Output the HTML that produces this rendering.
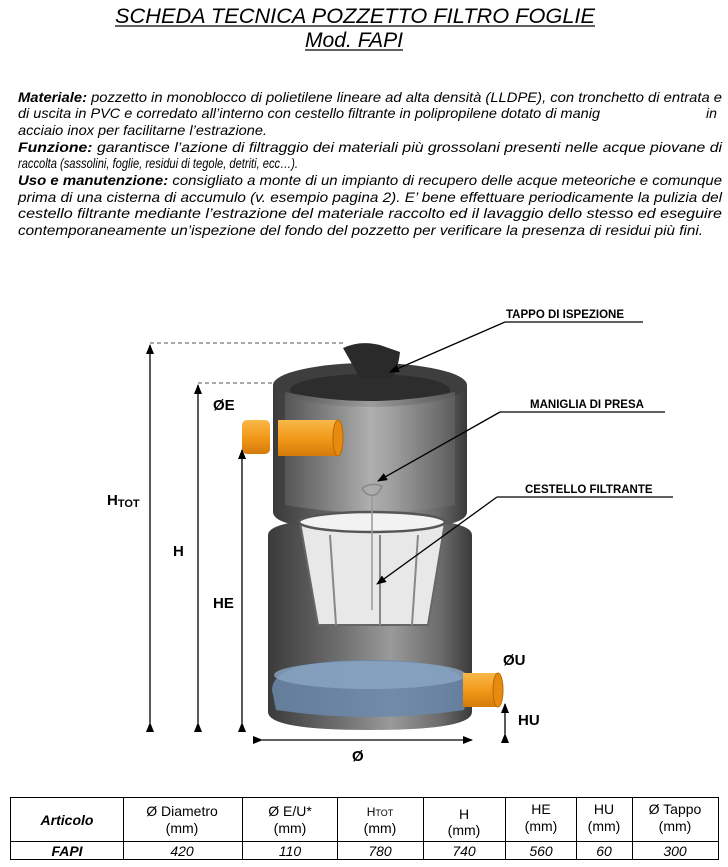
<!DOCTYPE html>
<html><head><meta charset="utf-8"><style>
html,body{margin:0;padding:0;background:#fff;}
svg{display:block;font-family:"Liberation Sans",Arial,sans-serif;}
</style></head><body>
<svg width="728" height="867" viewBox="0 0 728 867" xmlns="http://www.w3.org/2000/svg">
<defs>
<linearGradient id="body" x1="0" x2="1" y1="0" y2="0">
<stop offset="0" stop-color="#3a3a3a"/><stop offset="0.35" stop-color="#6e6e6e"/><stop offset="0.6" stop-color="#9a9a9a"/><stop offset="0.85" stop-color="#6a6a6a"/><stop offset="1" stop-color="#3a3a3a"/></linearGradient>
<linearGradient id="inner" x1="0" x2="1" y1="0" y2="0">
<stop offset="0" stop-color="#5a5a5a"/><stop offset="0.5" stop-color="#b8b8b8"/><stop offset="1" stop-color="#5f5f5f"/></linearGradient>
<linearGradient id="pipe" x1="0" x2="0" y1="0" y2="1">
<stop offset="0" stop-color="#f7b84a"/><stop offset="0.5" stop-color="#f39a1a"/><stop offset="1" stop-color="#d37a0a"/></linearGradient>
<marker id="ar" markerWidth="10" markerHeight="8" refX="9" refY="4" orient="auto" markerUnits="userSpaceOnUse"><path d="M0,0 L10,4 L0,8 z" fill="#000"/></marker>
</defs>

<g font-style="italic" font-size="21" text-anchor="middle" fill="#000">
<text x="355" y="23" textLength="480" lengthAdjust="spacingAndGlyphs">SCHEDA TECNICA POZZETTO FILTRO FOGLIE</text>
<line x1="115" y1="26" x2="595" y2="26" stroke="#000" stroke-width="1.2"/>
<text x="354" y="47" textLength="98" lengthAdjust="spacingAndGlyphs">Mod. FAPI</text>
<line x1="305" y1="50" x2="403" y2="50" stroke="#000" stroke-width="1.2"/>
</g>

<g font-style="italic" font-size="14" fill="#000">
<text x="18" y="102" textLength="704" lengthAdjust="spacingAndGlyphs"><tspan font-weight="bold">Materiale:</tspan> pozzetto in monoblocco di polietilene lineare ad alta densità (LLDPE), con tronchetto di entrata e</text>
<text x="18" y="118" textLength="582" lengthAdjust="spacingAndGlyphs">di uscita in PVC e corredato all’interno con cestello filtrante in polipropilene dotato di manig</text>
<text x="706" y="118">in</text>
<text x="18" y="135" textLength="249" lengthAdjust="spacingAndGlyphs">acciaio inox per facilitarne l’estrazione.</text>
<text x="18" y="152" textLength="704" lengthAdjust="spacingAndGlyphs"><tspan font-weight="bold">Funzione:</tspan> garantisce l’azione di filtraggio dei materiali più grossolani presenti nelle acque piovane di</text>
<text x="18" y="168" textLength="280" lengthAdjust="spacingAndGlyphs">raccolta (sassolini, foglie, residui di tegole, detriti, ecc…).</text>
<text x="18" y="185" textLength="704" lengthAdjust="spacingAndGlyphs"><tspan font-weight="bold">Uso e manutenzione:</tspan> consigliato a monte di un impianto di recupero delle acque meteoriche e comunque</text>
<text x="18" y="202" textLength="704" lengthAdjust="spacingAndGlyphs">prima di una cisterna di accumulo (v. esempio pagina 2). E’ bene effettuare periodicamente la pulizia del</text>
<text x="18" y="218" textLength="704" lengthAdjust="spacingAndGlyphs">cestello filtrante mediante l’estrazione del materiale raccolto ed il lavaggio dello stesso ed eseguire</text>
<text x="18" y="235" textLength="685" lengthAdjust="spacingAndGlyphs">contemporaneamente un’ispezione del fondo del pozzetto per verificare la presenza di residui più fini.</text>
</g>

<!-- dashed lines -->
<line x1="150" y1="343" x2="345" y2="343" stroke="#555" stroke-dasharray="4,3"/>
<line x1="198" y1="383" x2="276" y2="383" stroke="#555" stroke-dasharray="4,3"/>

<!-- lower tank -->
<path d="M268,535 L268,712 Q268,730 370,730 Q472,730 472,712 L472,535 Q472,518 370,518 Q268,518 268,535 Z" fill="url(#body)"/>
<path d="M272,690 Q272,660 370,660 Q468,660 468,690 L464,710 Q370,724 276,710 Z" fill="#6b88aa" opacity="0.85"/>
<ellipse cx="370" cy="675" rx="96" ry="14" fill="#8aa6c4" opacity="0.8"/>
<!-- upper tank -->
<path d="M273,385 L273,512 Q273,530 370,530 Q467,530 467,512 L467,385 Z" fill="url(#body)"/>
<ellipse cx="370" cy="385" rx="97" ry="22" fill="#3e3e3e"/>
<ellipse cx="370" cy="390" rx="80" ry="16" fill="#2d2d2d"/>
<path d="M285,392 L285,505 Q370,520 455,505 L455,392 Q370,410 285,392 Z" fill="url(#inner)" opacity="0.8"/>
<path d="M343,348 Q360,340 380,345 L400,352 Q398,370 392,378 L360,378 Z" fill="#2a2a2a"/>
<!-- pipes -->
<rect x="242" y="420" width="28" height="34" rx="5" fill="url(#pipe)"/>
<rect x="278" y="420" width="62" height="36" fill="url(#pipe)"/>
<ellipse cx="338" cy="438" rx="5" ry="18" fill="#e88a10" stroke="#b76a00"/>
<rect x="463" y="673" width="36" height="34" fill="url(#pipe)"/>
<ellipse cx="498" cy="690" rx="5" ry="17" fill="#e88a10" stroke="#b76a00"/>
<!-- basket -->
<path d="M300,522 L445,522 L428,625 L318,625 Z" fill="#e8e8e8" stroke="#666" stroke-width="2"/>
<ellipse cx="372" cy="522" rx="73" ry="10" fill="#f2f2f2" stroke="#555" stroke-width="2.5"/>
<line x1="330" y1="535" x2="336" y2="625" stroke="#888" stroke-width="2"/>
<line x1="380" y1="535" x2="380" y2="625" stroke="#888" stroke-width="2"/>
<line x1="418" y1="535" x2="412" y2="625" stroke="#888" stroke-width="2"/>
<line x1="372" y1="495" x2="372" y2="610" stroke="#999" stroke-width="1.5"/>
<path d="M362,488 Q372,482 382,486 Q378,496 372,495 Q366,496 362,488 Z" fill="none" stroke="#888" stroke-width="1.5"/>

<!-- dimension arrows -->
<g stroke="#000" stroke-width="1.3" fill="none">
<line x1="150" y1="723" x2="150" y2="345" marker-end="url(#ar)" marker-start="url(#ar)"/>
<line x1="198" y1="723" x2="198" y2="385" marker-end="url(#ar)" marker-start="url(#ar)"/>
<line x1="242" y1="723" x2="242" y2="450" marker-end="url(#ar)" marker-start="url(#ar)"/>
<line x1="505" y1="734" x2="505" y2="704" marker-end="url(#ar)" marker-start="url(#ar)"/>
<line x1="262" y1="740" x2="472" y2="740" marker-end="url(#ar)" marker-start="url(#ar)"/>
<line x1="505" y1="322" x2="390" y2="372" marker-end="url(#ar)"/>
<line x1="500" y1="412" x2="378" y2="481" marker-end="url(#ar)"/>
<line x1="497" y1="497" x2="377" y2="584" marker-end="url(#ar)"/>
<line x1="505" y1="322" x2="643" y2="322"/>
<line x1="500" y1="412" x2="665" y2="412"/>
<line x1="497" y1="497" x2="673" y2="497"/>
</g>
<g font-weight="bold" font-size="15" fill="#000">
<text x="107" y="505">H<tspan font-size="11" dy="2">TOT</tspan></text>
<text x="173" y="556">H</text>
<text x="213" y="410">ØE</text>
<text x="213" y="608">HE</text>
<text x="503" y="665">ØU</text>
<text x="518" y="725">HU</text>
<text x="352" y="761">Ø</text>
</g>
<g font-weight="bold" font-size="11.5" fill="#000">
<text x="506" y="318">TAPPO DI ISPEZIONE</text>
<text x="530" y="408">MANIGLIA DI PRESA</text>
<text x="525" y="493">CESTELLO FILTRANTE</text>
</g>

<!-- table -->
<g stroke="#000" stroke-width="1" fill="none">
<rect x="10.5" y="797.5" width="708" height="62"/>
<line x1="10" y1="841.5" x2="718" y2="841.5"/>
<line x1="123.5" y1="797" x2="123.5" y2="860"/>
<line x1="242.5" y1="797" x2="242.5" y2="860"/>
<line x1="337.5" y1="797" x2="337.5" y2="860"/>
<line x1="423.5" y1="797" x2="423.5" y2="860"/>
<line x1="505.5" y1="797" x2="505.5" y2="860"/>
<line x1="576.5" y1="797" x2="576.5" y2="860"/>
<line x1="632.5" y1="797" x2="632.5" y2="860"/>
</g>
<g font-size="14" text-anchor="middle" fill="#000">
<text x="67" y="825" font-weight="bold" font-style="italic">Articolo</text>
<text x="182" y="816">Ø Diametro</text><text x="182" y="833">(mm)</text>
<text x="290" y="816">Ø E/U*</text><text x="290" y="833">(mm)</text>
<text x="380" y="816" font-size="12">H<tspan font-size="9">TOT</tspan></text><text x="380" y="833">(mm)</text>
<text x="464" y="819">H</text><text x="464" y="835">(mm)</text>
<text x="541" y="814">HE</text><text x="541" y="831">(mm)</text>
<text x="604" y="814">HU</text><text x="604" y="831">(mm)</text>
<text x="675" y="814">Ø Tappo</text><text x="675" y="831">(mm)</text>
<g font-style="italic">
<text x="67" y="856" font-weight="bold">FAPI</text>
<text x="182" y="856">420</text><text x="290" y="856">110</text><text x="380" y="856">780</text>
<text x="464" y="856">740</text><text x="541" y="856">560</text><text x="604" y="856">60</text><text x="675" y="856">300</text>
</g>
</g>
</svg>
</body></html>
